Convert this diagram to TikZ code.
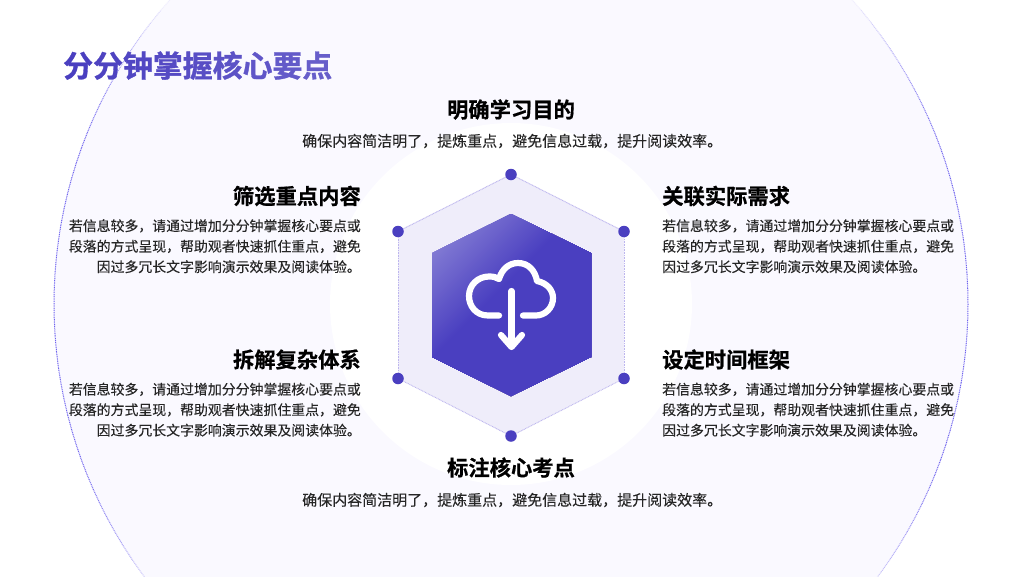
\documentclass[tikz,border=0pt]{standalone}
\usepackage{fontspec}
\setmainfont{Noto Sans CJK SC}[FakeBold=0.12]
\newfontfamily\cjkbold{Noto Sans CJK SC Bold}[FakeBold=0.7]
\newfontfamily\cjktitle{Noto Sans CJK SC Bold}[FakeBold=1.1]
\definecolor{ink}{HTML}{4A3FC0}
\definecolor{pale}{HTML}{FAF9FF}
\definecolor{hexpale}{HTML}{EFEDFA}
\definecolor{edge}{HTML}{BDB6EE}
\definecolor{ringc}{HTML}{6F63EE}
\definecolor{txt}{HTML}{262626}
\tikzset{
  head/.style={inner sep=0pt,font=\fontsize{21.3}{24}\cjkbold,text=black},
  bodyl/.style={inner sep=0pt,anchor=north west,align=left,font=\fontsize{13.9}{20.5}\selectfont,text=txt},
  bodyr/.style={inner sep=0pt,anchor=north east,align=right,font=\fontsize{13.9}{20.5}\selectfont,text=txt},
  bodym/.style={inner sep=0pt,anchor=west,font=\fontsize{15}{20}\selectfont,text=txt},
  vdot/.style={circle,fill=ink,inner sep=0pt,minimum size=11.5pt},
  rim/.style={edge,line width=.9pt,dash pattern=on .9pt off .7pt},
  icon/.style={white,line width=6.2pt,line cap=round,line join=round},
}
\begin{document}
\begin{tikzpicture}[x=1pt,y=-1pt]
\useasboundingbox (0,0) rectangle (1024,576);
\fill[white] (0,0) rectangle (1024,576);
% large disc
\begin{scope}
\clip (0,0) rectangle (1024,576);
\fill[pale] (511,304) circle (457);
\foreach \a in {-48,-46,...,48,132,134,...,228}{
  \pgfmathsetmacro{\w}{max(0,min(100,100*(abs(cos(\a+1))-0.74)/0.2))}
  \colorlet{ringnow}{ringc!\w!pale}
  \draw[ringnow,line width=1pt,dash pattern=on 1pt off .8pt] ({511+457*cos(\a)},{304+457*sin(\a)}) -- ({511+457*cos(\a+2)},{304+457*sin(\a+2)});
}
\fill[white] (511,304) circle (181);
\end{scope}
% hexagons
\fill[hexpale] (511,174) -- (624,231) -- (624,378) -- (511,436) -- (398,378) -- (398,231) -- cycle;
\begin{scope}
\clip (511,214) -- (591,253) -- (591,357) -- (511,396) -- (432,357) -- (432,253) -- cycle;
\fill[ink!68!white] (400,200) rectangle (620,420);
\foreach \s in {680,682,...,790}{
  \pgfmathsetmacro{\m}{68+32*(\s-680)/110}
  \colorlet{gradnow}{ink!\m!white}
  \fill[gradnow] (\s,0) -- (1024,0) -- (1024,1024) -- (0,1024) -- (0,\s) -- cycle;
}
\end{scope}
% vertices
\node[vdot] (a) at (511,174.5) {};
\node[vdot] (b) at (624,231.5) {};
\node[vdot] (c) at (624,378.5) {};
\node[vdot] (d) at (511,436) {};
\node[vdot] (e) at (398,378.5) {};
\node[vdot] (f) at (398,231.5) {};
\draw[rim] (a)--(b); \draw[rim] (b)--(c); \draw[rim] (c)--(d);
\draw[rim] (d)--(e); \draw[rim] (e)--(f); \draw[rim] (f)--(a);
% cloud icon
\draw[icon]
  (499,315.5) -- (488,315.5)
  .. controls (476,315.5) and (469,306) .. (469,296)
  .. controls (469,285) and (478,276.5) .. (489,276.5)
  .. controls (493,276.5) and (496,277) .. (499,279)
  .. controls (502,269) and (509,263) .. (518,263)
  .. controls (528,263) and (535,270) .. (537,281)
  .. controls (547,283) and (553,290) .. (553,298)
  .. controls (553,308) and (545,315.5) .. (536,315.5)
  -- (523,315.5);
\draw[icon] (511.5,291) -- (511.5,346);
\draw[icon] (501,335) -- (511.5,347) -- (522,335);
% title
\node[inner sep=0pt,anchor=west,font=\fontsize{29.9}{32}\cjktitle] (title) at (63,65.5) {\textcolor{ink}{分}\textcolor{ink!98!white}{分}\textcolor{ink!96!white}{钟}\textcolor{ink!94!white}{掌}\textcolor{ink!92!white}{握}\textcolor{ink!90!white}{核}\textcolor{ink!88!white}{心}\textcolor{ink!86!white}{要}\textcolor{ink!84!white}{点}};
% top/bottom
\node[head] (h1) at (511,109.5) {明确学习目的};
\node[bodym] (b1) at (302,141) {确保内容简洁明了，提炼重点，避免信息过载，提升阅读效率。};
\node[head] (h6) at (511,467.5) {标注核心考点};
\node[bodym] (b6) at (302,500) {确保内容简洁明了，提炼重点，避免信息过载，提升阅读效率。};
% left
\node[head,anchor=east] (h2) at (361,196) {筛选重点内容};
\node[bodyr] (b2) at (361,219) {若信息较多，请通过增加分分钟掌握核心要点或\\段落的方式呈现，帮助观者快速抓住重点，避免\\因过多冗长文字影响演示效果及阅读体验。};
\node[head,anchor=east] (h3) at (361,359.5) {拆解复杂体系};
\node[bodyr] (b3) at (361,382.5) {若信息较多，请通过增加分分钟掌握核心要点或\\段落的方式呈现，帮助观者快速抓住重点，避免\\因过多冗长文字影响演示效果及阅读体验。};
% right
\node[head,anchor=west] (h4) at (662,196) {关联实际需求};
\node[bodyl] (b4) at (662,219) {若信息较多，请通过增加分分钟掌握核心要点或\\段落的方式呈现，帮助观者快速抓住重点，避免\\因过多冗长文字影响演示效果及阅读体验。};
\node[head,anchor=west] (h5) at (662,359.5) {设定时间框架};
\node[bodyl] (b5) at (662,382.5) {若信息较多，请通过增加分分钟掌握核心要点或\\段落的方式呈现，帮助观者快速抓住重点，避免\\因过多冗长文字影响演示效果及阅读体验。};
\end{tikzpicture}
\end{document}
